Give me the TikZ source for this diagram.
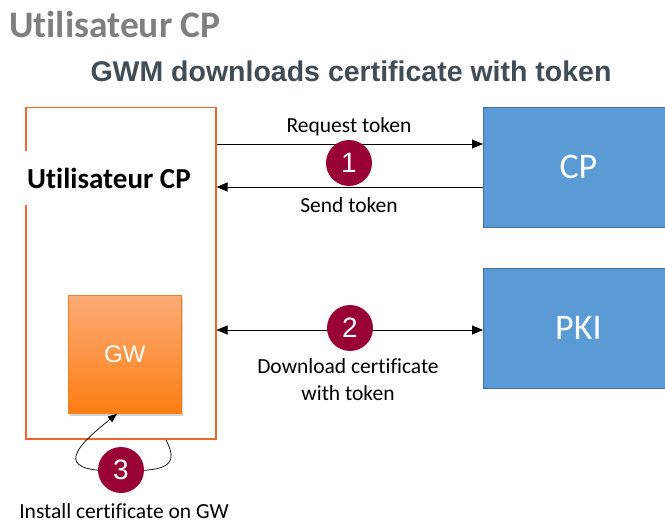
\documentclass[tikz,border=0pt]{standalone}
\usepackage{fontspec}
\setmainfont{Carlito}[RawFeature={-liga}]
\newfontfamily\arialfont{Liberation Sans}
\usetikzlibrary{arrows.meta,shadows,calc}
\definecolor{frameorange}{RGB}{240,100,50}
\definecolor{gwtop}{RGB}{251,172,118}
\definecolor{gwbot}{RGB}{253,126,18}
\definecolor{gwline}{RGB}{240,128,40}
\definecolor{cpfill}{RGB}{91,155,213}
\definecolor{cpline}{RGB}{65,113,156}
\definecolor{stepred}{RGB}{153,0,51}
\definecolor{titlegray}{RGB}{127,127,127}
\definecolor{subcol}{RGB}{64,76,86}
\tikzset{
  bluebox/.style={draw=cpline, line width=0.8pt, fill=cpfill, anchor=north west,
    minimum width=190pt, minimum height=120pt, inner sep=0pt,
    text=white, font=\fontsize{36}{40}\selectfont},
  stepcircle/.style={circle, fill=stepred, minimum size=46pt, inner sep=0pt,
    text=white, font=\arialfont\fontsize{28}{30}\selectfont},
  flowarrow/.style={-{Triangle[length=11pt,width=9pt]}, line width=0.8pt, black},
  steplabel/.style={font=\fontsize{21.5}{24}\selectfont, inner sep=0pt, anchor=base},
}
\begin{document}
\begin{tikzpicture}[x=1pt,y=-1pt]
\useasboundingbox (0,0) rectangle (665,524);
% titles
\node[anchor=base west, inner sep=0pt, text=titlegray, font=\bfseries\fontsize{37.5}{40}\selectfont] (title) at (9,38) {Utilisateur CP};
\node[anchor=base, inner sep=0pt, text=subcol, font=\arialfont\bfseries\fontsize{28.5}{32}\selectfont] (subtitle) at (351,82) {GWM downloads certificate with token};
% user frame
\node[draw=frameorange, line width=1.5pt, anchor=north west, minimum width=190pt, minimum height=331pt, inner sep=0pt] (user) at (25,107) {};
\node[anchor=west, fill=white, inner xsep=4pt, inner ysep=0pt, minimum height=54pt, font=\bfseries\fontsize{29}{32}\selectfont] (userlbl) at (23,178) {Utilisateur CP};
% GW box
\node[draw=gwline, line width=0.8pt, top color=gwtop, bottom color=gwbot, anchor=north west,
  minimum width=113pt, minimum height=118pt, inner sep=0pt,
  drop shadow={shadow xshift=1.5pt, shadow yshift=-2.5pt, opacity=0.35},
  text=white, font=\arialfont\fontsize{24}{26}\selectfont] (gw) at (68,295) {GW};
% CP and PKI
\node[bluebox] (cp) at (483,107) {CP};
\node[bluebox] (pki) at (483,268) {PKI};
% arrows step 1
\draw[flowarrow] (user.east |- 0,144) -- (cp.west |- 0,144);
\draw[flowarrow] (cp.west |- 0,187) -- (user.east |- 0,187);
\node[steplabel] (reqlbl) at (349,133) {Request token};
\node[steplabel] (sendlbl) at (349,213) {Send token};
\node[stepcircle] (s1) at (349,163) {1};
% step 2
\draw[{Triangle[length=11pt,width=9pt]}-{Triangle[length=11pt,width=9pt]}, line width=0.8pt] (user.east |- 0,330) -- (pki.west |- 0,330);
\node[stepcircle] (s2) at (350,328) {2};
\node[steplabel] (dl1) at (348,373) {Download certificate};
\node[steplabel] (dl2) at (348,400) {with token};
% step 3
\coordinate (loopstart) at (166,440);
\coordinate (loopmid) at (121,471);
\draw[-{Triangle[length=9pt,width=7pt]}, line width=0.7pt] (loopstart) .. controls (181,468) and (162,471) .. (loopmid) .. controls (60,472) and (65,455) .. (gw.south -| 117,0);
\node[stepcircle] (s3) at (121,470) {3};
\node[steplabel] (inst) at (124,518) {Install certificate on GW};
\end{tikzpicture}
\end{document}
